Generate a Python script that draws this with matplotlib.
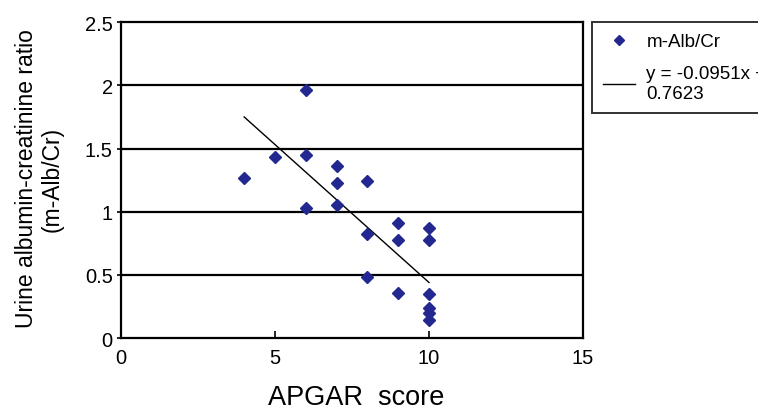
import numpy as np
import matplotlib
matplotlib.use("Agg")
import matplotlib.pyplot as plt

plt.rcParams['font.family'] = ['Liberation Sans', 'DejaVu Sans']

# APGAR score vs urine albumin-creatinine ratio
apgar = [4, 5, 6, 6, 6, 7, 7, 7, 8, 8, 8, 9, 9, 9, 10, 10, 10, 10, 10, 10]
ratio = [1.27, 1.43, 1.96, 1.45, 1.03, 1.36, 1.23, 1.05, 1.24, 0.82, 0.48,
         0.91, 0.78, 0.36, 0.87, 0.78, 0.35, 0.24, 0.20, 0.14]

# trend line as drawn in the figure
trend_x = [4, 10]
trend_y = [1.75, 0.44]

x_ticks = [0, 5, 10, 15]
y_ticks = [0, 0.5, 1, 1.5, 2, 2.5]
y_ticklabels = ['0', '0.5', '1', '1.5', '2', '2.5']

fig = plt.figure(figsize=(7.58, 4.14), dpi=100)
ax = fig.add_axes([0.1596, 0.181, 0.6095, 0.763])

for yv in y_ticks[1:-1]:
    ax.axhline(yv, color='black', lw=1.6, zorder=1)

pts, = ax.plot(apgar, ratio, 'D', color='#22288f', markersize=6, zorder=3)
ln, = ax.plot(trend_x, trend_y, color='black', lw=1.0, zorder=2)

ax.set_xlim(0, 15)
ax.set_ylim(0, 2.5)
ax.set_xticks(x_ticks)
ax.set_xticklabels([str(v) for v in x_ticks])
ax.set_yticks(y_ticks)
ax.set_yticklabels(y_ticklabels)
ax.tick_params(axis='x', direction='in', length=5, width=1.2, labelsize=14.5, pad=7)
ax.tick_params(axis='y', direction='out', length=3, width=1.2, labelsize=14.5, pad=3)
for s in ax.spines.values():
    s.set_linewidth(1.6)

fig.text(356 / 758, 1 - 398 / 414, 'APGAR  score', fontsize=19.5,
         ha='center', va='center')
fig.text(39 / 758, 1 - 179 / 414, 'Urine albumin-creatinine ratio\n(m-Alb/Cr)',
         fontsize=16.5, rotation=90, ha='center', va='center',
         multialignment='center', linespacing=1.15)

# legend box runs past the right edge, as in the original
leg = fig.legend([pts, ln], ['m-Alb/Cr', 'y = -0.0951x +\n0.7623'],
                 loc='upper left', bbox_to_anchor=(592 / 758, 1 - 23 / 414),
                 borderaxespad=0, fontsize=13.5, frameon=True, fancybox=False,
                 edgecolor='black', handlelength=1.7, handletextpad=0.6,
                 borderpad=0.6, labelspacing=0.8, markerscale=0.8)
leg.get_frame().set_linewidth(1.4)

fig.savefig('out.png', dpi=100)
